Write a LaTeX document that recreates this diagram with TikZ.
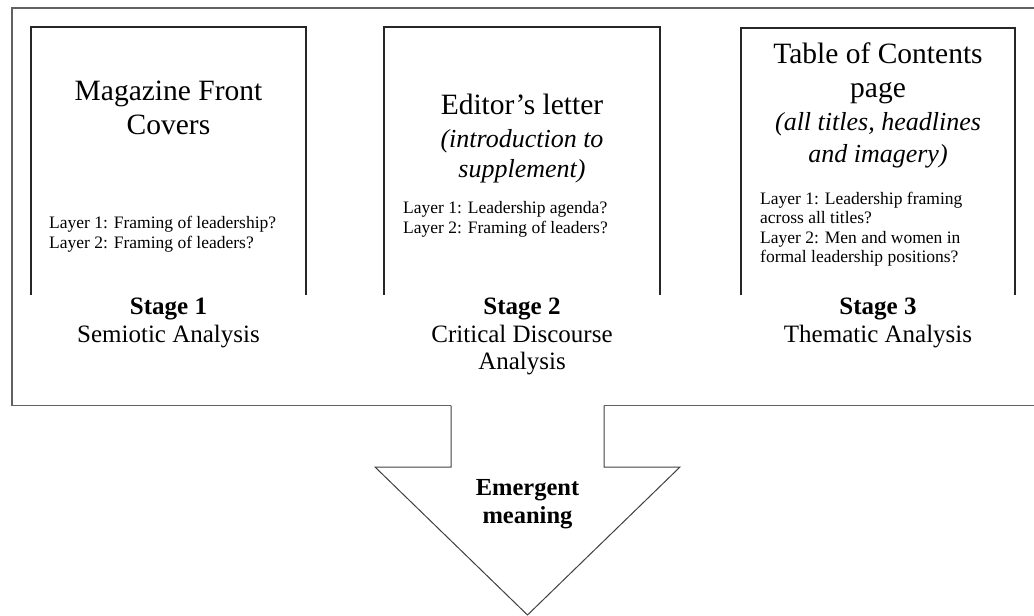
\documentclass[tikz,border=0pt]{standalone}
\usepackage{fontspec}
\setmainfont{Liberation Serif}
\begin{document}
\begin{tikzpicture}[x=1pt,y=-1pt,
  title/.style={font=\fontsize{29.5}{34}\selectfont, anchor=base, inner sep=0pt},
  sub/.style={font=\itshape\fontsize{26}{30}\selectfont, anchor=base, inner sep=0pt},
  layer/.style={font=\fontsize{17.5}{20}\selectfont, anchor=base west, inner sep=0pt},
  stagehd/.style={font=\bfseries\fontsize{25}{28}\selectfont, anchor=base, inner sep=0pt},
  stagetx/.style={font=\fontsize{25}{28}\selectfont, anchor=base, inner sep=0pt},
  emerg/.style={font=\bfseries\fontsize{24.5}{28}\selectfont, anchor=base, inner sep=0pt},
  framelines/.style={draw=black!62, line width=1.6pt},
  boxlines/.style={draw=black!85, line width=1.1pt},
  arrowlines/.style={draw=black!75, line width=1pt, line join=miter}]
\useasboundingbox (0,0) rectangle (1034,616);

% outer frame
\draw[framelines] (1040,8) -- (12,8) -- (12,405.5) -- (451,405.5);
\draw[framelines] (604,405.5) -- (1040,405.5);
% arrow
\draw[arrowlines] (451,405.5) -- (451,467) -- (375,467) -- (527.5,615) -- (680,467) -- (604,467) -- (604,405.5);

% boxes (open at the bottom)
\draw[boxlines] (31,295) -- (31,27) -- (306,27) -- (306,295);
\draw[boxlines] (384,295) -- (384,27) -- (660,27) -- (660,295);
\draw[boxlines] (741,295) -- (741,28) -- (1015,28) -- (1015,295);

% box 1
\node[title] (t1a) at (168.5,100) {Magazine Front};
\node[title] (t1b) at (168.5,134) {Covers};
\node[layer] (l1a) at (49,228) {Layer 1: Framing of leadership?};
\node[layer] (l1b) at (49,248) {Layer 2: Framing of leaders?};
\node[stagehd] (s1a) at (168.5,314) {Stage 1};
\node[stagetx] (s1b) at (168.5,342) {Semiotic Analysis};

% box 2
\node[title] (t2a) at (522,114) {Editor’s letter};
\node[sub] (t2b) at (522,147) {(introduction to};
\node[sub] (t2c) at (522,177) {supplement)};
\node[layer] (l2a) at (403,213) {Layer 1: Leadership agenda?};
\node[layer] (l2b) at (403,233) {Layer 2: Framing of leaders?};
\node[stagehd] (s2a) at (522,314) {Stage 2};
\node[stagetx] (s2b) at (522,342) {Critical Discourse};
\node[stagetx] (s2c) at (522,369) {Analysis};

% box 3
\node[title] (t3a) at (878,63) {Table of Contents};
\node[title] (t3b) at (878,97) {page};
\node[sub] (t3c) at (878,130) {(all titles, headlines};
\node[sub] (t3d) at (878,162) {and imagery)};
\node[layer] (l3a) at (760,204) {Layer 1: Leadership framing};
\node[layer] (l3b) at (760,223) {across all titles?};
\node[layer] (l3c) at (760,243) {Layer 2: Men and women in};
\node[layer] (l3d) at (760,262) {formal leadership positions?};
\node[stagehd] (s3a) at (878,314) {Stage 3};
\node[stagetx] (s3b) at (878,342) {Thematic Analysis};

% arrow label
\node[emerg] (e1) at (527.5,495) {Emergent};
\node[emerg] (e2) at (527.5,523) {meaning};
\end{tikzpicture}
\end{document}
